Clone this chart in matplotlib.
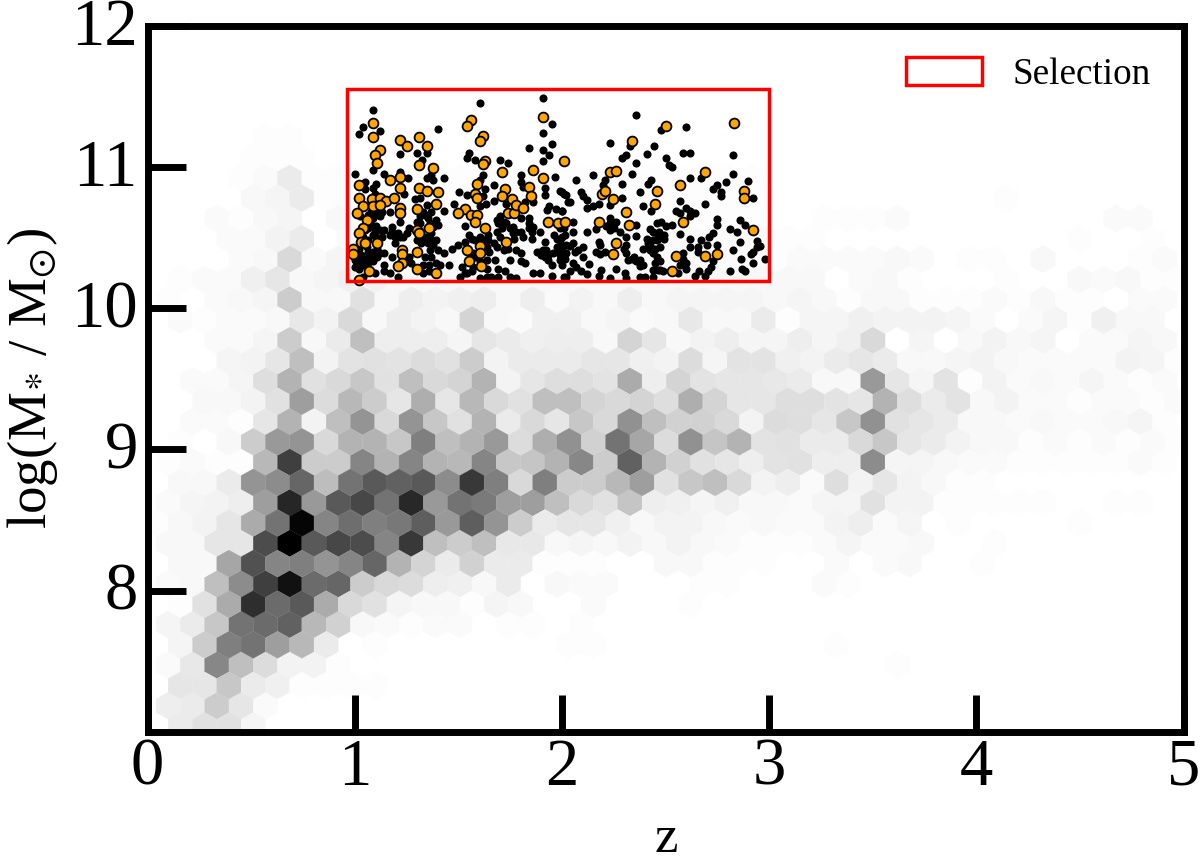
# z vs stellar mass, hexbin background with selected sample on top
import numpy as np
import matplotlib
matplotlib.use('Agg')
import matplotlib.pyplot as plt
from matplotlib.patches import Rectangle
from matplotlib.transforms import ScaledTranslation

plt.rcParams['font.family'] = ['Liberation Serif', 'DejaVu Serif']
plt.rcParams['mathtext.fontset'] = 'stix'

# grey level (0 white .. 100 black) of each hex cell, one list per row, top row first
first_row = -20
hex_rows = [
    [0,0,0,0,0,1,1],
    [0,0,0,0,1,1,1],
    [0,0,0,0,1,2,8,1,1,1,1,1,1,1,1,1,1,1,1,1,1,1,1,1,1,1],
    [0,0,0,0,3,4,8,1,1,1,1,1,1,1,1,1,1,1,1,1,1,1,1,1,1,1,0,0,0,0,0,0,0,0,0,1],
    [0,0,0,2,1,3,4,0,3,1,1,1,1,1,1,1,1,1,1,1,1,1,1,1,1,1,0,0,1,1,1,2,0,0,0,0,0,0,0,0,2,2],
    [0,0,0,2,2,5,8,0,2,2,2,2,2,2,2,2,2,2,2,2,2,2,2,2,2,2,1,1,0,0,0,0,0,0,0,0,0,0,1,0,0,1],
    [0,0,0,0,2,3,15,2,4,2,2,2,2,2,2,2,2,2,2,2,2,2,2,2,2,2,1,2,2,2,2,3,2,0,1,1,0,3,0,0,0,1,2],
    [0,1,2,2,6,10,3,4,6,5,3,3,3,3,3,3,3,3,3,3,3,3,3,3,3,3,3,3,0,2,3,1,0,0,0,1,0,0,3,2,3,1,1],
    [0,1,0,2,3,4,20,3,3,12,3,7,5,6,7,3,7,2,5,3,7,3,4,4,4,4,3,4,3,1,3,3,1,1,1,2,1,3,1,1,0,2,2],
    [0,2,1,2,2,3,9,5,15,3,7,5,3,17,3,2,6,6,3,4,2,3,9,3,3,8,1,4,4,6,5,5,5,4,2,0,2,4,1,6,3,3,0],
    [0,0,0,2,2,4,20,3,8,25,7,7,7,4,10,8,6,7,7,3,17,10,3,5,7,4,4,7,4,6,15,0,4,0,3,5,3,4,0,2,2,4,3],
    [0,0,0,4,5,10,25,5,11,12,11,14,12,20,5,8,8,8,10,10,6,5,14,4,11,11,6,5,8,10,8,3,3,4,5,3,2,2,2,2,5,4,1],
    [0,0,2,2,4,13,30,12,15,22,12,25,15,17,30,5,10,13,13,11,33,7,17,11,10,10,9,8,3,3,40,10,4,11,1,5,2,3,2,4,2,1,2],
    [0,0,3,3,5,12,38,14,28,20,10,32,10,28,15,12,25,25,17,15,17,13,32,17,10,10,13,13,11,10,30,13,8,11,3,5,2,2,1,2,2,1,2],
    [0,0,2,2,1,10,30,5,25,42,15,42,22,12,30,8,15,10,22,15,43,25,18,18,15,5,14,13,10,22,43,12,10,8,3,3,2,3,2,2,3,4,1],
    [0,1,0,3,20,40,42,15,30,30,22,50,25,30,40,14,32,43,18,55,35,14,43,23,30,11,12,8,8,15,22,10,8,5,3,3,1,2,1,2,1,2,1],
    [0,1,2,1,1,28,75,20,20,48,30,48,30,28,48,22,23,30,47,20,62,30,18,12,10,7,11,12,7,7,45,4,4,3,2,2,1,1,1,1,1,2,1],
    [0,3,3,8,42,45,60,26,55,65,62,65,45,78,50,15,50,20,20,28,38,12,22,25,15,5,7,2,13,5,10,5,3,1,1],
    [0,2,4,5,7,38,85,40,65,72,55,84,40,55,52,38,38,25,15,12,23,7,6,4,6,3,3,2,4,4,12,5,5,1,1,1,1,1,0,0,1,1],
    [1,3,5,10,33,55,98,48,57,50,53,63,40,63,42,20,8,10,10,6,3,5,5,3,2,3,2,2,5,7,2,4,0,1,0,0,0,0,1],
    [0,3,3,10,10,70,100,65,72,70,48,78,25,20,25,9,9,3,4,3,5,3,5,3,2,1,1,1,2,4,2,2,3,0,0,1],
    [0,3,3,35,68,48,50,42,48,60,30,17,8,18,8,8,1,1,1,0,0,3,3,1,1,1,0,0,2,0,2,3,0,0,1],
    [0,2,3,25,45,75,93,58,60,20,15,14,7,6,3,8,0,3,2,2,0,0,0,1,1,0,0,0,2,1],
    [0,1,12,33,82,58,65,33,15,12,4,3,3,1,4,3,0,0,2,0,0,0,1],
    [0,4,8,22,55,58,62,28,18,3,2,1,2,2,0,1,1,0,1],
    [0,4,20,50,55,38,28,8,0,1,0,0,0,0,0,0,0,1,1,0,0,0,0,0,0,0,0,0,1],
    [0,2,9,47,25,14,5,5,1,0,0,0,0,0,0,0,0,0,0,0,0,0,0,0,0,0,0,0,0,0,0,1],
    [0,10,10,22,8,6,1,1,1,1],
    [0,7,8,20,10,2],
    [0,8,12,12,4],
]

orange_z = [1.09,1.09,1.12,1.10,1.11,1.22,1.25,1.31,1.35,1.31,1.38,1.22,1.17,1.22,1.31,1.35,1.40,1.39,1.30,
            1.02,1.02,1.085,1.12,1.15,1.19,1.04,1.09,1.12,1.01,1.06,1.22,1.22,1.04,1.02,1.30,1.31,1.36,1.03,
            1.05,1.11,0.99,0.99,1.23,1.23,1.30,1.23,1.21,1.07,1.02,1.30,1.39,1.56,1.54,1.62,1.605,1.63,1.62,
            1.71,1.59,1.58,1.59,1.725,1.71,1.53,1.50,1.56,1.59,1.58,1.63,1.74,1.77,1.76,1.78,1.81,1.73,1.605,
            1.54,1.605,1.55,1.61,1.91,2.01,1.86,1.91,1.84,1.85,1.935,1.98,2.015,
            2.50,2.83,2.34,2.23,2.26,2.69,2.195,2.21,2.245,2.46,2.57,2.45,2.88,2.88,2.31,2.18,2.325,2.585,2.92,
            2.26,2.245,2.55,2.69,2.75,2.53]
orange_m = [11.31,11.21,11.12,11.08,11.03,11.19,11.15,11.21,11.15,11.01,10.99,10.93,10.91,10.85,10.85,10.83,10.82,10.74,10.70,
            10.87,10.78,10.77,10.78,10.76,10.78,10.72,10.72,10.73,10.67,10.62,10.71,10.67,10.57,10.53,10.55,10.53,10.57,10.47,
            10.46,10.46,10.42,10.38,10.41,10.38,10.40,10.32,10.30,10.26,10.20,10.28,10.25,11.33,11.29,11.22,11.18,11.04,11.02,
            10.96,10.88,10.81,10.78,10.84,10.79,10.70,10.67,10.66,10.66,10.61,10.57,10.67,10.67,10.77,10.73,10.71,10.47,10.44,
            10.41,10.39,10.33,10.30,11.35,11.04,10.98,10.92,10.86,10.79,10.61,10.60,10.61,
            11.29,11.31,11.18,10.96,10.97,10.96,10.81,10.83,10.77,10.83,10.87,10.74,10.83,10.78,10.68,10.61,10.59,10.61,10.55,
            10.46,10.38,10.37,10.37,10.38,10.26]

black_z = [2.36,2.60,2.48,2.23,2.33,2.445,2.41,2.585,2.62,2.825,2.31,2.29,2.36,2.50,2.515,2.53,2.34,2.15,2.07,2.21,2.20,2.29,
           2.415,2.43,2.62,2.67,2.825,2.79,2.75,2.73,2.77,2.77,2.90,2.375,2.09,2.10,2.01,1.99,2.29,2.12,2.04,2.18,2.15,2.12,
           2.23,2.00,2.39,2.43,2.57,2.69,2.60,2.62,2.64,2.55,2.57,2.62,2.92,2.23,2.055,2.23,2.26,2.36,2.215,2.165,2.12,2.055,
           2.01,2.23,2.28,2.425,2.46,2.48,2.53,2.50,2.44,2.47,2.57,2.75,2.75,2.86,2.885,2.81,2.845,2.73,2.71,2.67,2.62,2.31,
           2.36,2.41,2.495,2.495,2.46,2.86,2.94,2.955,2.94,2.92,2.915,2.75,2.70,2.62,2.655,2.655,2.31,2.18,2.185,2.055,2.04,
           2.10,2.08,2.065,2.00,2.01,2.015,1.99,2.10,2.165,2.185,2.21,2.30,2.31,2.32,2.35,2.375,2.39,2.39,2.425,2.45,2.475,
           2.44,2.46,2.475,2.45,2.465,2.49,2.56,2.60,2.60,2.585,2.585,2.57,2.64,2.66,2.69,2.705,2.73,2.72,2.81,2.825,2.865,
           2.87,2.885,2.92,2.98,2.055,2.07,2.13,2.04,2.02,2.09,2.12,2.19,2.18,2.26,2.23,2.305,2.31,2.375,2.40,2.44,
           1.605,1.91,1.09,1.04,1.12,1.02,1.40,1.95,1.91,1.95,1.84,1.91,1.94,1.91,1.22,1.30,1.35,1.325,1.55,1.54,1.58,1.70,
           1.74,1.00,1.09,1.14,1.22,1.255,1.35,1.37,1.43,1.38,1.62,1.605,1.67,1.805,1.805,1.81,1.965,1.92,1.92,2.00,2.02,
           1.05,1.105,1.09,1.10,1.05,1.24,1.315,1.29,1.505,1.54,1.48,1.63,1.62,1.67,1.635,1.605,1.73,1.82,1.86,1.93,1.94,
           1.97,2.00,2.03,1.17,1.35,1.33,1.37,1.43,1.315,1.355,1.39,1.40,1.105,1.12,1.09,1.105,1.065,1.12,1.09,1.18,1.25,
           1.22,1.37,1.39,1.34,1.17,1.22,1.195,1.38,1.32,1.40,1.43,1.47,1.50,1.53,1.55,1.605,1.565,1.53,1.645,1.67,1.69,
           1.72,1.71,1.73,1.685,1.75,1.765,1.84,1.805,1.84,1.805,1.855,1.895,1.77,1.81,1.855,1.88,1.91,1.90,1.935,1.92,
           1.99,2.015,1.975,2.00,1.975,1.99,2.02,1.935,2.01,1.805,1.78,1.74,1.685,1.65,1.72,1.677,1.75,1.69,1.64,1.725,
           1.66,1.78,1.82,1.805,1.75,1.86,1.895,1.95,1.95,2.01,2.00,1.605,1.516,1.51,1.53,1.565,1.455,1.41,1.39,1.36,1.34,
           1.37,1.33,1.33,1.36,1.27,1.26,1.18,1.21,1.17,1.14,1.10,1.04,1.02,1.04,1.065,1.09,1.12,1.065,1.03,1.01,1.05,1.09,
           1.14,1.00,1.06,1.02,1.14,1.025,1.105,1.04,
           1.025,1.058,1.025,1.00,1.08,1.106,1.106,1.14,1.066,1.13,1.09,1.08,1.066,1.13,1.10,1.05,1.074,1.30,1.315,1.34,1.363,
           1.38,1.35,1.33,1.355,1.363,1.37,1.30,1.21,1.195,1.235,1.26,1.18,1.573,1.58,1.637,1.62,1.58,1.637,1.605,1.573,1.54,
           1.637,1.69,1.925,1.895,1.92,1.958,1.98,2.02,1.99,2.00,1.96,1.685,1.70,1.84,1.86,1.765,1.78,1.70,1.645,
           2.337,2.36,2.375,2.475,2.44,2.425,2.417,2.44,2.465,2.25,2.25]
black_m = [11.37,11.28,11.26,11.17,11.15,11.15,11.09,11.10,11.10,11.08,11.08,11.06,11.03,11.06,11.015,11.00,10.95,10.94,10.91,10.91,10.87,10.88,
           10.88,10.91,10.92,10.92,10.95,10.89,10.87,10.84,10.82,10.79,10.90,10.82,10.82,10.79,10.81,10.83,10.78,10.765,10.75,10.74,10.72,10.71,
           10.73,10.69,10.72,10.69,10.76,10.74,10.71,10.69,10.67,10.69,10.67,10.65,10.78,10.635,10.61,10.60,10.61,10.59,10.58,10.56,10.54,10.54,
           10.565,10.55,10.54,10.56,10.60,10.61,10.59,10.58,10.54,10.54,10.525,10.63,10.59,10.62,10.59,10.56,10.54,10.53,10.505,10.48,10.49,10.505,
           10.51,10.49,10.52,10.49,10.48,10.47,10.475,10.44,10.43,10.40,10.38,10.45,10.45,10.43,10.435,10.40,10.45,10.47,10.45,10.46,10.44,
           10.435,10.41,10.40,10.435,10.39,10.35,10.34,10.365,10.40,10.38,10.40,10.42,10.39,10.34,10.365,10.34,10.305,10.42,10.44,10.42,10.435,
           10.39,10.365,10.33,10.32,10.27,10.26,10.25,10.32,10.28,10.39,10.35,10.305,10.23,10.26,10.23,10.26,10.33,10.29,10.26,10.41,10.35,
           10.28,10.26,10.32,10.35,10.32,10.29,10.31,10.26,10.22,10.26,10.24,10.27,10.23,10.28,10.21,10.25,10.21,10.22,10.22,10.22,
           11.45,11.49,11.40,11.28,11.25,11.23,11.27,11.30,11.24,11.16,11.13,11.12,11.08,11.04,11.09,11.10,11.10,11.05,11.10,11.06,11.05,11.05,
           11.03,10.95,10.98,10.95,10.965,10.92,10.92,10.94,10.92,10.91,10.94,10.91,10.87,10.94,10.895,10.86,10.93,10.85,10.80,10.82,10.80,
           10.895,10.88,10.85,10.81,10.84,10.81,10.78,10.77,10.82,10.80,10.74,10.84,10.79,10.76,10.74,10.72,10.74,10.75,10.75,10.695,10.72,
           10.70,10.69,10.75,10.68,10.73,10.68,10.68,10.69,10.65,10.635,10.62,10.59,10.68,10.65,10.635,10.58,10.565,10.55,10.52,10.575,10.53,
           10.61,10.53,10.48,10.505,10.52,10.505,10.46,10.45,10.46,10.41,10.39,10.42,10.45,10.58,10.52,10.505,10.49,10.47,10.52,10.46,10.60,
           10.61,10.565,10.60,10.54,10.565,10.53,10.635,10.635,10.565,10.54,10.54,10.54,10.49,10.505,10.49,10.40,10.41,10.375,10.375,10.47,
           10.565,10.52,10.49,10.435,10.435,10.375,10.45,10.34,10.375,10.39,10.41,10.42,10.435,10.40,10.41,10.34,10.34,10.28,10.28,10.26,
           10.22,10.21,10.32,10.33,10.22,10.25,10.25,10.305,10.23,10.22,10.305,10.21,10.29,10.22,10.25,10.26,10.305,10.305,10.32,10.305,10.365,
           10.365,10.305,10.25,10.26,10.32,10.365,10.365,10.22,10.25,10.26,10.25,10.22,10.28,10.305,10.32,10.33,10.39,10.40,10.375,10.365,10.35,10.40,
           10.305,10.29,10.435,10.42,10.55,10.65,10.505,10.505,
           10.365,10.33,10.33,10.34,10.365,10.365,10.42,10.39,10.48,10.505,10.58,10.68,10.66,10.68,10.55,10.55,10.61,10.48,10.60,10.66,10.60,
           10.575,10.565,10.48,10.46,10.41,10.48,10.61,10.53,10.505,10.505,10.565,10.54,10.39,10.48,10.435,10.48,10.365,10.34,10.33,10.29,10.25,
           10.22,10.22,10.41,10.40,10.365,10.39,10.40,10.39,10.48,10.505,10.52,10.625,10.65,10.60,10.575,10.575,10.54,10.505,10.48,
           10.35,10.33,10.295,10.27,10.27,10.41,10.46,10.48,10.52,10.60,10.565]

x_ticks = [0, 1, 2, 3, 4, 5]
y_ticks = [8, 9, 10, 11, 12]
sel_z = (0.965, 3.0)
sel_m = (10.19, 11.55)

# hex lattice
dx = 0.11728
dy = 0.14366
x0 = -0.0174
y0 = 8.3355
hx, hy, hc = [], [], []
for i, row in enumerate(hex_rows):
    n = first_row + i
    for c, val in enumerate(row):
        if val > 0:
            hx.append(x0 + c * dx + (0.5 * dx if n % 2 else 0))
            hy.append(y0 - n * dy)
            hc.append(val)

fig = plt.figure(figsize=(12, 8.59), dpi=100)
ax = fig.add_axes([147.5 / 1200, 1 - 732 / 859, 1036 / 1200, 706.5 / 859])

ymin = y0 - 10 * dy
ax.hexbin(hx, hy, C=hc, gridsize=(44, 20), cmap='gray_r', vmin=0, vmax=100,
          extent=(x0, x0 + 44 * dx, ymin, ymin + 40 * dy),
          reduce_C_function=np.mean, edgecolors='face', linewidths=0.2, zorder=1)

ax.scatter(black_z, black_m, s=34, c='k', linewidths=0, zorder=2)
ax.scatter(orange_z, orange_m, s=50, c='orange', edgecolors='k', linewidths=1.3, zorder=3)

sel = Rectangle((sel_z[0], sel_m[0]), sel_z[1] - sel_z[0], sel_m[1] - sel_m[0], fill=False,
                edgecolor='red', linewidth=2.5, zorder=4, label='Selection')
ax.add_patch(sel)

ax.set_xlim(0, 5)
ax.set_ylim(7, 12)
ax.set_xticks(x_ticks)
ax.set_yticks(y_ticks)
ax.tick_params(direction='in', length=27, width=5, labelsize=48)
ax.tick_params(axis='x', pad=4)
ax.tick_params(axis='y', pad=7)
down = ScaledTranslation(0, -2 / 72, fig.dpi_scale_trans)
for lab in ax.get_yticklabels():
    lab.set_verticalalignment('center')
    lab.set_transform(lab.get_transform() + down)
for s in ax.spines.values():
    s.set_linewidth(5)

ax.set_xlabel('z', fontsize=38, va='baseline')
ax.xaxis.set_label_coords((666 - 147.5) / 1036, (732 - 852) / 706.5)
ax.set_ylabel(r'log(M$_{*}$ / M$_{\odot}$)', fontsize=39.5, va='center')
ax.yaxis.set_label_coords((33 - 147.5) / 1036, (732 - 378) / 706.5)

ax.legend(loc='upper right', bbox_to_anchor=(1 + 2 / 1036, 1 + 4 / 706.5), frameon=False, fontsize=26.7,
          handlelength=2.05, handleheight=0.78, handletextpad=0.8, borderaxespad=0.55, borderpad=0.4)

fig.savefig('out.png', dpi=100)
